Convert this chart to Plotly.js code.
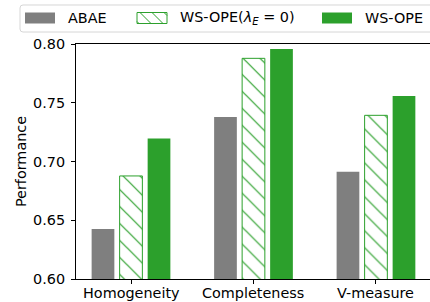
<!DOCTYPE html>
<html>
<head>
<meta charset="utf-8">
<script src="https://cdn.plot.ly/plotly-3.0.1.min.js"></script>
<style>html,body{margin:0;padding:0;background:#fff;}#chart{width:430px;height:302px;}</style>
</head>
<body>
<div id="chart"></div>
<script>
// ---- data ----
var categories = ["Homogeneity", "Completeness", "V-measure"];
var abae = [0.6426, 0.7379, 0.6913];
var wsopeNoE = [0.6877, 0.7878, 0.7393];
var wsope = [0.7195, 0.7957, 0.7557];
var seriesNames = ["ABAE", "WS-OPE(<i>λ</i><sub><i>E</i></sub> = 0)", "WS-OPE"];
var yTickVals = [0.60, 0.65, 0.70, 0.75, 0.80];
var yTickText = ["0.60", "0.65", "0.70", "0.75", "0.80"];

// ---- layout geometry ----
var W = 430, H = 302;
var L = 76, R = 0, T = 44, B = 23;
var pw = W - L - R, ph = H - T - B;
function px(x) { return (x - L) / pw; }
function py(y) { return (H - B - y) / ph; }

var GRAY = "#7f7f7f", GREEN = "#2ca02c";
var FONT = "DejaVu Sans, sans-serif";
var FS = 14.4;

var traces = [
  {type: "bar", x: categories, y: abae, name: seriesNames[0],
   marker: {color: GRAY, line: {width: 0}}, showlegend: false},
  {type: "bar", x: categories, y: wsopeNoE, name: seriesNames[1],
   marker: {color: "#ffffff", line: {color: GREEN, width: 1},
            pattern: {shape: "\\", fgcolor: GREEN, bgcolor: "#ffffff", size: 12, solidity: 0.1}},
   showlegend: false},
  {type: "bar", x: categories, y: wsope, name: seriesNames[2],
   marker: {color: GREEN, line: {width: 0}}, showlegend: false}
];

// custom legend (matplotlib style)
var shapes = [];
var annotations = [];
(function () {
  var x0 = 20, x1 = 445, y0 = 5, y1 = 32, r = 3;
  var d = "M" + (x0 + r) + "," + y0 + " L" + x1 + "," + y0 + " L" + x1 + "," + y1 +
          " L" + (x0 + r) + "," + y1 + " Q" + x0 + "," + y1 + " " + x0 + "," + (y1 - r) +
          " L" + x0 + "," + (y0 + r) + " Q" + x0 + "," + y0 + " " + (x0 + r) + "," + y0 + " Z";
  var path = d.replace(/(-?[\d.]+),(-?[\d.]+)/g, function (m, a, b) {
    return px(+a).toFixed(5) + "," + py(+b).toFixed(5);
  });
  shapes.push({type: "path", xref: "paper", yref: "paper", path: path,
               fillcolor: "rgba(255,255,255,0.8)", line: {color: "#d6d6d6", width: 1}, layer: "above"});
})();
var patchY0 = 12.5, patchY1 = 23.5;
var patches = [
  {x0: 25, x1: 55, fill: GRAY},
  {x0: 137, x1: 167, fill: "#ffffff", hatch: true},
  {x0: 322, x1: 352, fill: GREEN}
];
var textX = [67, 179, 364];
patches.forEach(function (p, i) {
  shapes.push({type: "rect", xref: "paper", yref: "paper",
               x0: px(p.x0), x1: px(p.x1), y0: py(patchY1), y1: py(patchY0),
               fillcolor: p.fill, line: {color: p.hatch ? GREEN : p.fill, width: p.hatch ? 1 : 0}, layer: "above"});
  if (p.hatch) {
    var h = patchY1 - patchY0;
    var starts = [p.x0 - 9, p.x0 + 3, p.x0 + 15, p.x0 + 27];
    starts.forEach(function (s) {
      var a = Math.max(s, p.x0), b = Math.min(s + h, p.x1);
      if (b <= a) return;
      shapes.push({type: "line", xref: "paper", yref: "paper",
                   x0: px(a), y0: py(patchY0 + (a - s)), x1: px(b), y1: py(patchY0 + (b - s)),
                   line: {color: GREEN, width: 1}, layer: "above"});
    });
  }
  annotations.push({xref: "paper", yref: "paper", x: px(textX[i]), y: py(18),
                    xanchor: "left", yanchor: "middle", showarrow: false,
                    text: seriesNames[i], font: {family: FONT, size: FS, color: "#000"}, borderpad: 0});
});

// x tick labels as annotations positioned on the category axis
categories.forEach(function (c, i) {
  annotations.push({xref: "x", yref: "paper", x: i, y: py(293), xanchor: "center", yanchor: "middle",
                    showarrow: false, text: c, font: {family: FONT, size: FS, color: "#000"}, borderpad: 0});
});

var layout = {
  width: W, height: H,
  margin: {l: L, r: R, t: T, b: B, pad: 0},
  paper_bgcolor: "#fff", plot_bgcolor: "#fff",
  barmode: "group", bargap: 0.314, bargroupgap: 0.189,
  font: {family: FONT, size: FS, color: "#000"},
  showlegend: false,
  xaxis: {type: "category", range: [-0.449, 2.441], showgrid: false, zeroline: false,
          showline: true, linecolor: "#000", linewidth: 1, mirror: true,
          ticks: "outside", ticklen: 4, tickwidth: 1, tickcolor: "#000",
          showticklabels: false},
  yaxis: {range: [0.6, 0.8], tickvals: yTickVals, ticktext: yTickText,
          showgrid: false, zeroline: false, showline: true, linecolor: "#000", linewidth: 1,
          ticks: "outside", ticklen: 4, tickwidth: 1, tickcolor: "#000", ticklabelstandoff: 3,
          tickfont: {family: FONT, size: FS, color: "#000"},
          title: {text: "Performance", font: {family: FONT, size: FS, color: "#000"}, standoff: 3}},
  shapes: shapes,
  annotations: annotations
};

Plotly.newPlot("chart", traces, layout, {staticPlot: true, displayModeBar: false});
</script>
</body>
</html>
